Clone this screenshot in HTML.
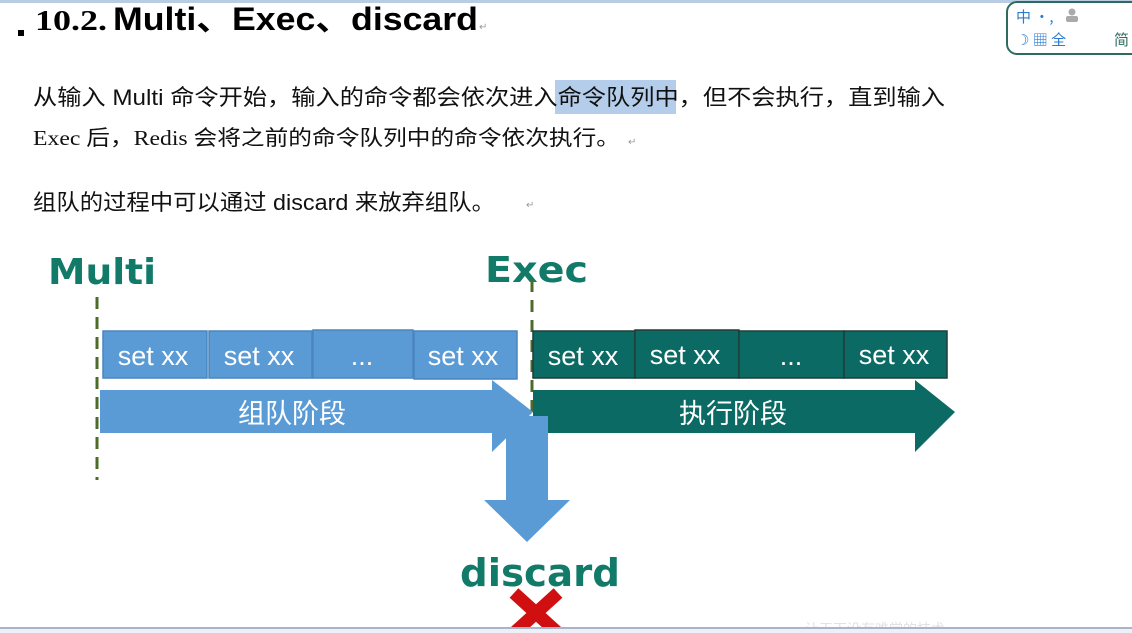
<!DOCTYPE html>
<html><head><meta charset="utf-8"><style>
html,body{margin:0;padding:0;background:#fff;width:1132px;height:633px;overflow:hidden;}
svg{display:block}
</style></head><body>
<svg width="1132" height="633" xmlns="http://www.w3.org/2000/svg">
<rect x="0" y="0" width="1132" height="3" fill="#b8cce4"/>
<rect x="18" y="30" width="6" height="6" fill="#000"/>
<text x="35" y="30" font-family="Liberation Serif, serif" font-weight="bold" font-size="29" fill="#000" textLength="72" lengthAdjust="spacingAndGlyphs">10.2.</text>
<text x="113" y="30" font-family="Liberation Sans, 'Noto Sans CJK SC', sans-serif" font-weight="bold" font-size="32" fill="#000" textLength="365" lengthAdjust="spacingAndGlyphs">Multi、Exec、discard</text>
<text x="479" y="30" font-family="Liberation Sans, sans-serif" font-size="10" fill="#999">↵</text>
<!-- IME widget -->
<rect x="1007" y="2" width="140" height="52" rx="10" fill="#fff" stroke="#2e6b5e" stroke-width="2"/>
<text x="1016" y="22" font-family="'Noto Sans CJK SC', sans-serif" font-size="15" fill="#2b7bd0">中 •,</text>
<circle cx="1072" cy="12" r="3.5" fill="#aaa"/><rect x="1066" y="16" width="12" height="6" rx="2" fill="#aaa"/>
<text x="1016" y="45" font-family="'Noto Sans CJK SC', sans-serif" font-size="15" fill="#2b7bd0">☽ ▦ 全</text>
<text x="1114" y="45" font-family="'Noto Sans CJK SC', sans-serif" font-size="15" fill="#2e6b5e">简</text>
<!-- paragraph -->
<rect x="555" y="80" width="121" height="34" fill="#b4cdea"/>
<text x="33" y="105" font-family="Liberation Sans, 'Noto Sans CJK SC', sans-serif" font-size="22" fill="#111" textLength="912" lengthAdjust="spacingAndGlyphs">从输入 Multi 命令开始，输入的命令都会依次进入命令队列中，但不会执行，直到输入</text>
<text x="33" y="145" font-family="Liberation Serif, 'Noto Sans CJK SC', serif" font-size="21" fill="#111" textLength="587" lengthAdjust="spacingAndGlyphs">Exec 后，Redis 会将之前的命令队列中的命令依次执行。</text>
<text x="628" y="145" font-size="10" fill="#999">↵</text>
<text x="33" y="210" font-family="Liberation Sans, 'Noto Sans CJK SC', sans-serif" font-size="22" fill="#111" textLength="462" lengthAdjust="spacingAndGlyphs">组队的过程中可以通过 discard 来放弃组队。</text>
<text x="526" y="208" font-size="10" fill="#999">↵</text>
<!-- labels -->
<text x="48" y="284" font-family="DejaVu Sans, sans-serif" font-weight="bold" font-size="36" fill="#117a68" textLength="108" lengthAdjust="spacingAndGlyphs">Multi</text>
<text x="485" y="282" font-family="DejaVu Sans, sans-serif" font-weight="bold" font-size="36" fill="#117a68" textLength="103" lengthAdjust="spacingAndGlyphs">Exec</text>
<!-- dashed lines -->
<line x1="97" y1="297" x2="97" y2="480" stroke="#4e6b2a" stroke-width="3" stroke-dasharray="12,8"/>
<line x1="532" y1="280" x2="532" y2="420" stroke="#4e6b2a" stroke-width="3" stroke-dasharray="12,8"/>
<!-- blue boxes -->
<g fill="#5b9bd5" stroke="#4a85bd" stroke-width="1.5">
<rect x="103" y="331" width="104" height="47"/>
<rect x="209" y="331" width="103" height="47"/>
<rect x="313" y="330" width="100" height="48"/>
<rect x="414" y="331" width="103" height="48"/>
</g>
<g font-family="Liberation Sans, sans-serif" font-size="27" fill="#fff" text-anchor="middle">
<text x="153" y="365">set xx</text><text x="259" y="365">set xx</text>
<text x="362" y="365">...</text><text x="463" y="365">set xx</text>
</g>
<!-- blue arrow -->
<polygon points="100,390 492,390 492,380 533,412 492,452 492,433 100,433" fill="#5b9bd5"/>
<text x="292" y="423" font-family="'Noto Sans CJK SC', sans-serif" font-size="27" fill="#fff" text-anchor="middle">组队阶段</text>
<!-- teal boxes -->
<g fill="#0b6b64" stroke="#1f3d39" stroke-width="1.5">
<rect x="533" y="331" width="102" height="47"/>
<rect x="635" y="330" width="104" height="48"/>
<rect x="739" y="331" width="105" height="47"/>
<rect x="844" y="331" width="103" height="47"/>
</g>
<g font-family="Liberation Sans, sans-serif" font-size="27" fill="#fff" text-anchor="middle">
<text x="583" y="365">set xx</text><text x="685" y="364">set xx</text>
<text x="791" y="365">...</text><text x="894" y="364">set xx</text>
</g>
<polygon points="533,390 915,390 915,380 955,412 915,452 915,433 533,433" fill="#0b6b64"/>
<text x="733" y="423" font-family="'Noto Sans CJK SC', sans-serif" font-size="27" fill="#fff" text-anchor="middle">执行阶段</text>
<!-- down arrow -->
<polygon points="506,416 548,416 548,500 570,500 527,542 484,500 506,500" fill="#5b9bd5"/>
<text x="460" y="586" font-family="DejaVu Sans, sans-serif" font-weight="bold" font-size="38" fill="#117a68" textLength="160" lengthAdjust="spacingAndGlyphs">discard</text>
<!-- red X -->
<g stroke="#d01010" stroke-width="13">
<line x1="514" y1="593" x2="558" y2="633"/><line x1="558" y1="593" x2="514" y2="633"/>
</g>
<text x="805" y="634" font-family="'Noto Sans CJK SC', sans-serif" font-size="14" fill="#e2e2e2">让天下没有难学的技术</text>
<rect x="0" y="627" width="1132" height="2" fill="#a8b4cc"/>
<rect x="0" y="629" width="1132" height="4" fill="#eef0f5"/>
</svg>
</body></html>
